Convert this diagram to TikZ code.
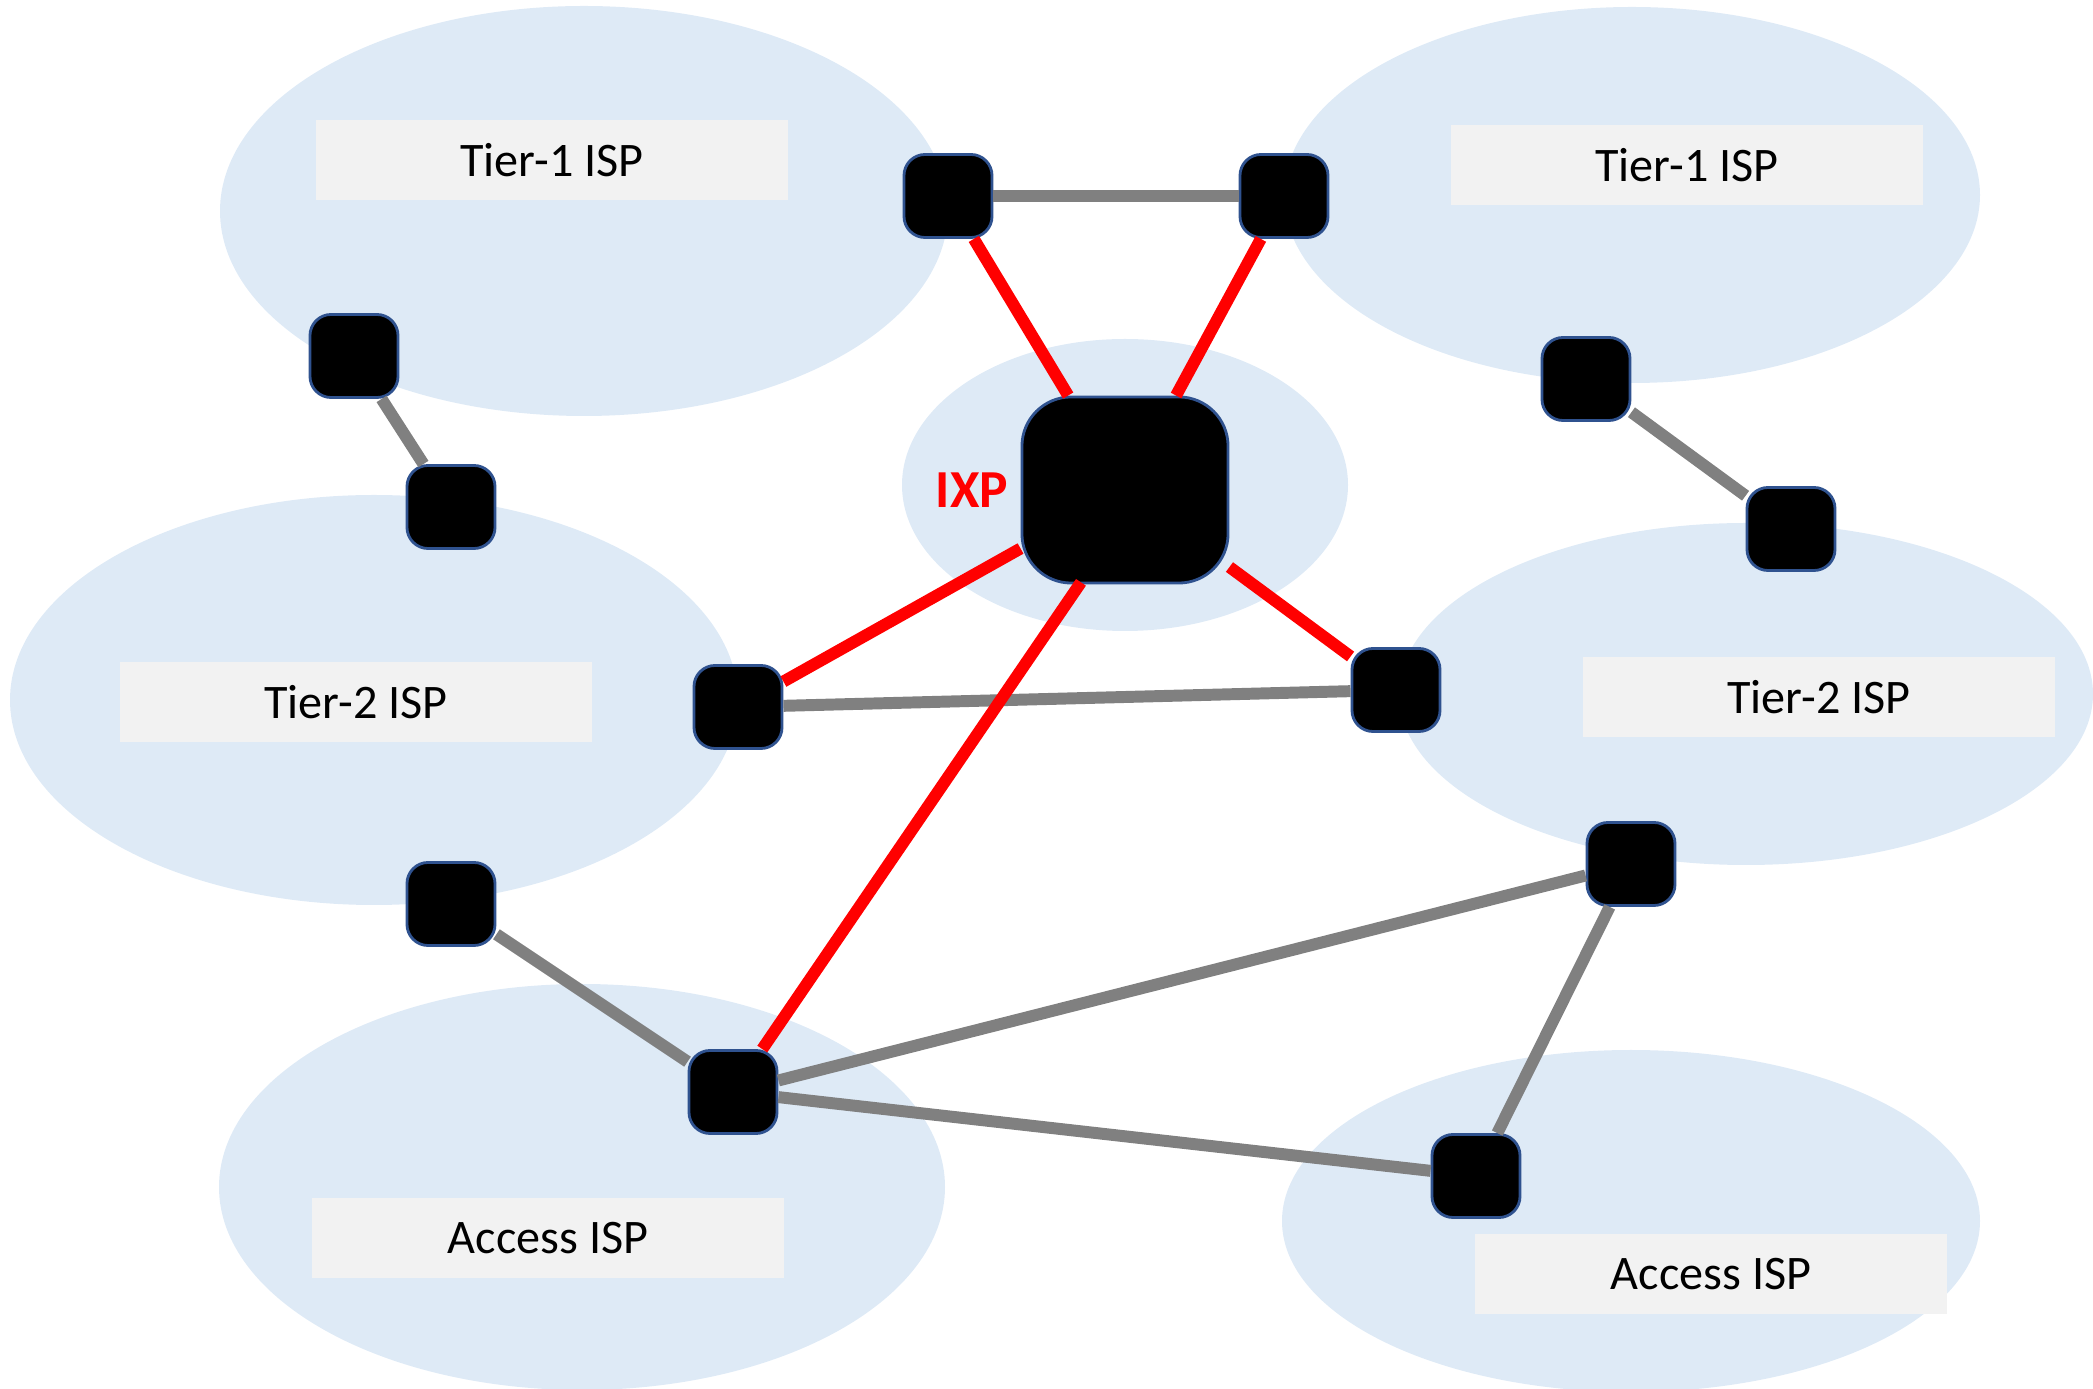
\documentclass[tikz,border=0pt]{standalone}
\usepackage{fontspec}
\setmainfont{Carlito}
\usetikzlibrary{positioning}

\definecolor{cloud}{HTML}{DEEAF6}
\definecolor{tag}{HTML}{F2F2F2}
\definecolor{rim}{HTML}{2F528F}
\definecolor{link}{HTML}{808080}

\tikzset{
    router/.style={draw=rim, line width=0.8pt, fill=black, rounded corners=6pt,
        minimum width=0.88cm, minimum height=0.83cm, inner sep=0pt},
    isptag/.style={fill=tag, minimum width=4.71cm, minimum height=0.79cm,
        font=\fontsize{13.7}{16}\selectfont},
    peer/.style={line width=3.4pt, link},
    public/.style={line width=3.4pt, red}
}

\begin{document}
\begin{tikzpicture}[x=0.01cm, y=-0.01cm]
            \useasboundingbox (0,0) rectangle (2093,1389);

            % ISP regions
            \foreach \x\y\rx\ry in {584/211/364/205, 1632/195/348/188, 1125/485/223/146,
                                    374/700/364/205, 1746/694/347/171,
                                    582/1187/363/203, 1631/1221/349/171} {
                \fill[cloud] (\x,\y) ellipse ({\rx*0.01cm} and {\ry*0.01cm});
            }

            \node[isptag] (t1a) at (552,160) {Tier-1 ISP};
            \node[isptag] (t1b) at (1687,165) {Tier-1 ISP};
            \node[isptag] (t2a) at (356,702) {Tier-2 ISP};
            \node[isptag] (t2b) at (1819,697) {Tier-2 ISP};
            \node[isptag] (acca) at (548,1238) {Access ISP};
            \node[isptag] (accb) at (1711,1274) {Access ISP};

            % routers
            \foreach \n\x\y in {r1/948/196, r2/1284/196, r3/354/356, r4/451/507,
                                r5/738/707, r6/1396/690, r7/1586/379, r8/1791/529,
                                r9/451/904, r10/733/1092, r11/1631/864, r12/1476/1176} {
                \node[router] (\n) at (\x,\y) {};
            }
            \node[router, minimum width=2.06cm, minimum height=1.86cm, rounded corners=14pt] (ixp) at (1125,490) {};
            \node[left=0cm of ixp, text=red, font=\fontsize{15.2}{18}\selectfont\bfseries] (ixplabel) {IXP};

            % links
            \foreach \a\b in {r1/r2, r3/r4, r7/r8, r5/r6, r9/r10, r10/r11, r10/r12, r11/r12} {
                \draw[peer] (\a) -- (\b);
            }
            \foreach \b in {r1, r2, r5, r6} {
                \draw[public] (ixp) -- (\b);
            }
            \draw[public] ([xshift=-0.44cm, yshift=0.6pt]ixp.south) -- (r10);
        \end{tikzpicture}
\end{document}
